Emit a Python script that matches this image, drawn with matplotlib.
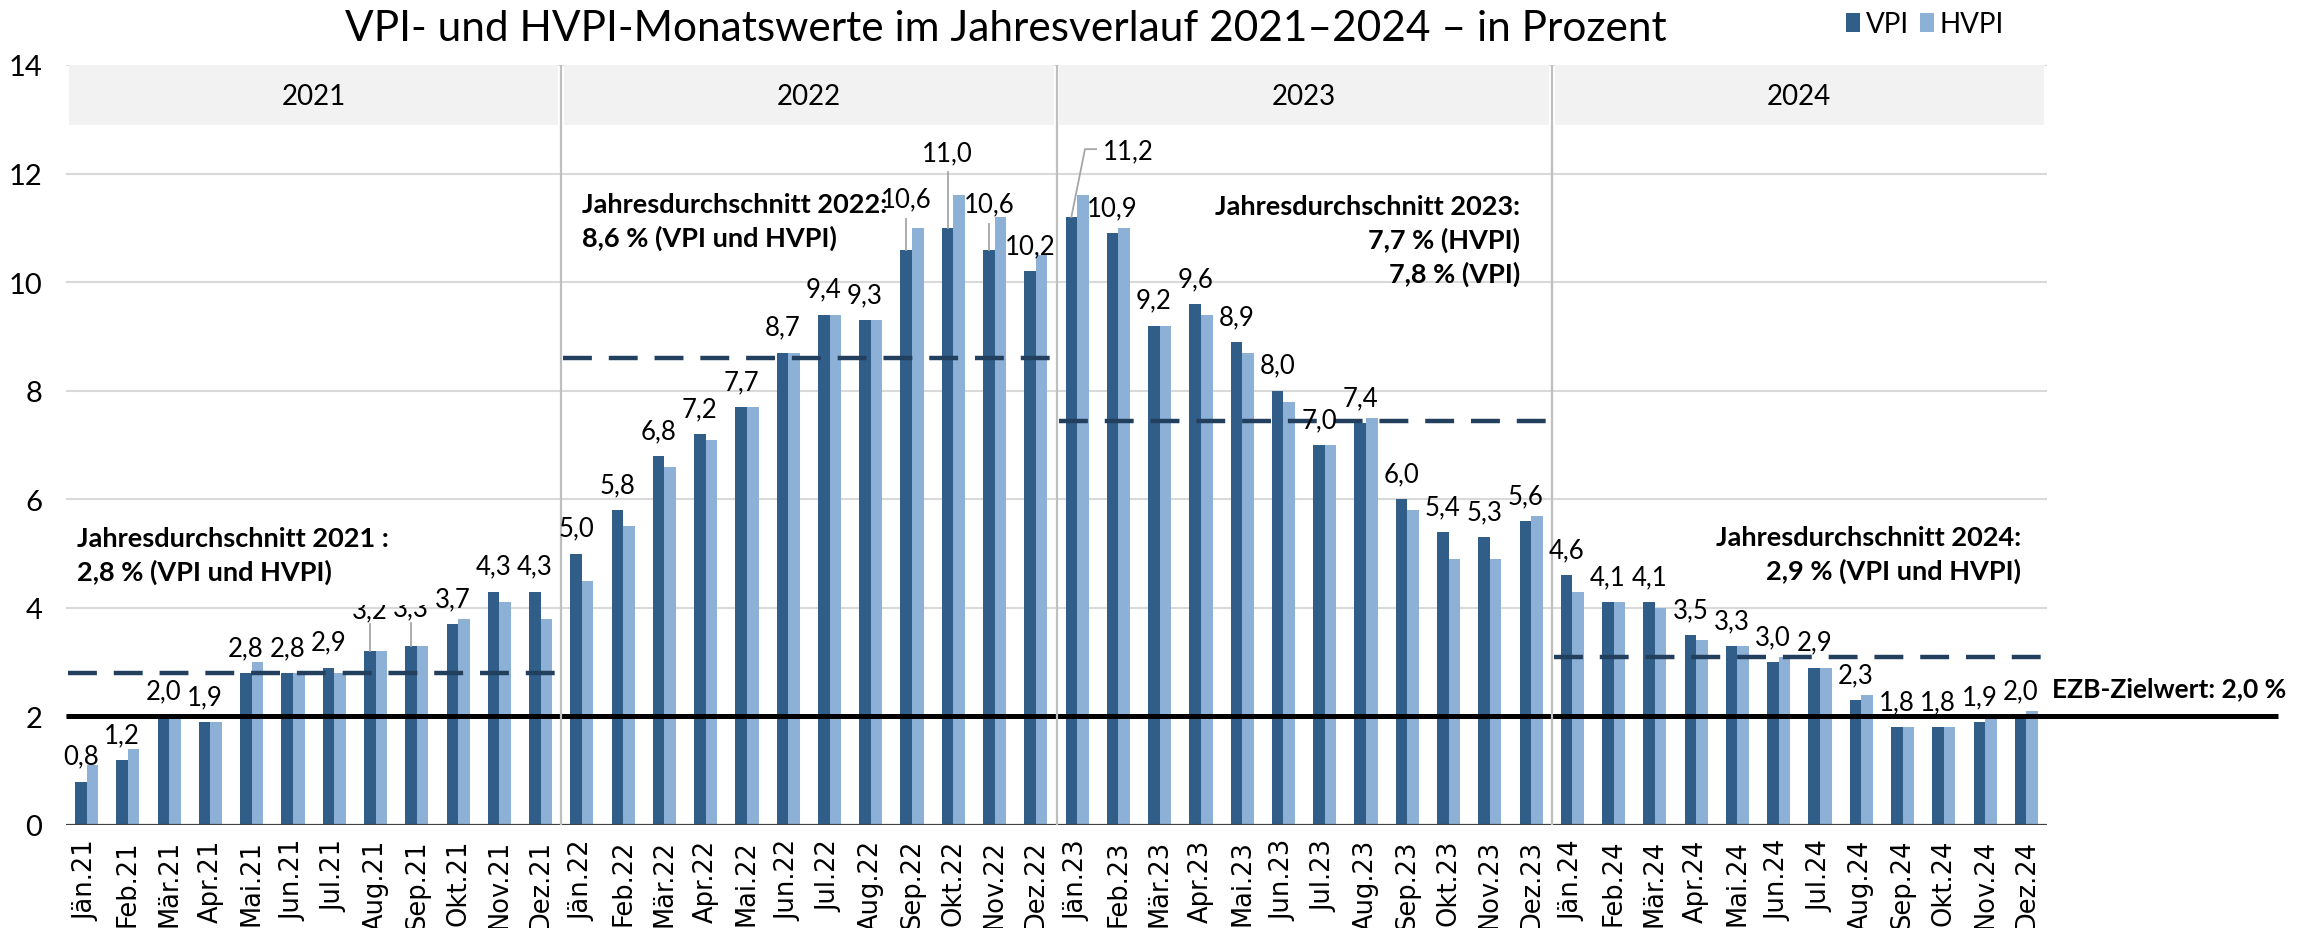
import matplotlib
matplotlib.use("Agg")
import matplotlib.pyplot as plt
from matplotlib.patches import Rectangle, Patch
import numpy as np

# ---------------- data ----------------
months = ["Jän", "Feb", "Mär", "Apr", "Mai", "Jun", "Jul", "Aug", "Sep", "Okt", "Nov", "Dez"]
years = ["2021", "2022", "2023", "2024"]

vpi_2021 = [0.8, 1.2, 2.0, 1.9, 2.8, 2.8, 2.9, 3.2, 3.3, 3.7, 4.3, 4.3]
vpi_2022 = [5.0, 5.8, 6.8, 7.2, 7.7, 8.7, 9.4, 9.3, 10.6, 11.0, 10.6, 10.2]
vpi_2023 = [11.2, 10.9, 9.2, 9.6, 8.9, 8.0, 7.0, 7.4, 6.0, 5.4, 5.3, 5.6]
vpi_2024 = [4.6, 4.1, 4.1, 3.5, 3.3, 3.0, 2.9, 2.3, 1.8, 1.8, 1.9, 2.0]

hvpi_2021 = [1.1, 1.4, 2.0, 1.9, 3.0, 2.8, 2.8, 3.2, 3.3, 3.8, 4.1, 3.8]
hvpi_2022 = [4.5, 5.5, 6.6, 7.1, 7.7, 8.7, 9.4, 9.3, 11.0, 11.6, 11.2, 10.5]
hvpi_2023 = [11.6, 11.0, 9.2, 9.4, 8.7, 7.8, 7.0, 7.5, 5.8, 4.9, 4.9, 5.7]
hvpi_2024 = [4.3, 4.1, 4.0, 3.4, 3.3, 3.1, 2.9, 2.4, 1.8, 1.8, 2.0, 2.1]

avg_lines = [2.8, 8.6, 7.45, 3.1]          # dashed annual-average lines as drawn
ezb_target = 2.0

avg_texts = [
    "Jahresdurchschnitt 2021 :\n2,8 % (VPI und HVPI)",
    "Jahresdurchschnitt 2022:\n8,6 % (VPI und HVPI)",
    "Jahresdurchschnitt 2023:\n7,7 % (HVPI)\n7,8 % (VPI)",
    "Jahresdurchschnitt 2024:\n2,9 % (VPI und HVPI)",
]
ezb_text = "EZB-Zielwert: 2,0 %"
title = "VPI- und HVPI-Monatswerte im Jahresverlauf 2021–2024 – in Prozent"
series_names = ["VPI", "HVPI"]

vpi = vpi_2021 + vpi_2022 + vpi_2023 + vpi_2024
hvpi = hvpi_2021 + hvpi_2022 + hvpi_2023 + hvpi_2024
tick_labels = [f"{m}.{y[2:]}" for y in years for m in months]

# ---------------- style ----------------
DARK = "#305E89"
LIGHT = "#8DB0D6"
NAVY = "#223F5E"
FONT = "Lato"
TFONT = "DejaVu Sans"

W, H = 2310, 929
fig = plt.figure(figsize=(W / 100, H / 100), dpi=100)
fig.patch.set_facecolor("white")
ax = fig.add_axes([66 / W, 1 - 826 / H, (2047 - 66) / W, (826 - 66) / H])
n = len(vpi)
ax.set_xlim(-0.5, n - 0.5)
ax.set_ylim(0, 14)
for s in ax.spines.values():
    s.set_visible(False)

x = np.arange(n)
bw = 0.28

# grid
for g in range(2, 15, 2):
    ax.axhline(g, color="#D9D9D9", lw=1.5, zorder=0)

# year bands
for k, y in enumerate(years):
    x0 = 12 * k - 0.5 + 0.07
    ax.add_patch(Rectangle((x0, 12.9), 12 - 0.14, 1.1, facecolor="#F2F2F2",
                           edgecolor="none", zorder=0.5))
    ax.text(12 * k + 5.5, 13.43, y, ha="center", va="center", fontsize=20,
            family=FONT, zorder=2)

# bars
ax.bar(x - bw / 2, vpi, bw, color=DARK, zorder=2, label=series_names[0])
ax.bar(x + bw / 2, hvpi, bw, color=LIGHT, zorder=2, label=series_names[1])

# axis line
ax.axhline(0, color="#404040", lw=1.6, zorder=3)

# EZB target line
ax.plot([-0.5, 53.1], [ezb_target, ezb_target], color="black", lw=3.6,
        zorder=3, clip_on=False, solid_capstyle="butt")

# separators
ax.vlines([11.5, 23.5, 35.5], 0, 14, color="#BFBFBF", lw=1.6, zorder=4)

# dashed average lines
for k, v in enumerate(avg_lines):
    ax.plot([12 * k - 0.45, 12 * k + 11.45], [v, v], color=NAVY, lw=3.2,
            dashes=(6.5, 3.8), zorder=4)

# value labels
LBL = 18.5
label_y = {7: 3.96, 8: 4.0, 20: 11.53, 21: 12.38, 22: 11.44}
leaders = {7: (3.7, 3.2), 8: (3.72, 3.3), 20: (11.17, 10.6), 21: (12.03, 11.0),
           22: (11.07, 10.6)}
for i, v in enumerate(vpi):
    xc = i - bw / 2
    txt = f"{v:.1f}".replace(".", ",")
    if i == 24:
        ax.text(xc + 1.37, 12.42, txt, ha="center", va="center", fontsize=LBL,
                family=FONT, zorder=5)
        ax.plot([xc + 0.6, xc + 0.33, xc], [12.45, 12.45, v], color="#A6A6A6",
                lw=1.3, zorder=5)
        continue
    yc = label_y.get(i, v + 0.47)
    ax.text(xc, yc, txt, ha="center", va="center", fontsize=LBL, family=FONT,
            zorder=5)
    if i in leaders:
        a, b = leaders[i]
        ax.plot([xc, xc], [a, b], color="#A6A6A6", lw=1.3, zorder=5)

# white box of the 2021 annotation (clips labels beneath)
ax.add_patch(Rectangle((-0.45, 4.06), 8.75, 1.6, facecolor="white",
                       edgecolor="none", zorder=6))

# annual-average annotations
ann_kw = dict(fontsize=19.5, family=FONT, fontweight="bold", zorder=7,
              linespacing=1.42)
ax.text(-0.23, 4.97, avg_texts[0], ha="left", va="center", **ann_kw)
ax.text(12.0, 11.13, avg_texts[1], ha="left", va="center", **ann_kw)
ax.text(34.73, 10.78, avg_texts[2], ha="right", va="center", multialignment="right", **ann_kw)
ax.text(46.87, 4.99, avg_texts[3], ha="right", va="center", multialignment="right", **ann_kw)
ax.text(47.62, 2.52, ezb_text, ha="left", va="center", fontsize=19,
        family=FONT, fontweight="bold", zorder=7, clip_on=False)

# ticks
ax.set_xticks(x)
ax.set_xticklabels(tick_labels, rotation=90, family=TFONT, fontsize=18.5)
ax.set_yticks(range(0, 15, 2))
ax.set_yticklabels([str(t) for t in range(0, 15, 2)], family=FONT, fontsize=21)
ax.tick_params(axis="x", length=0, pad=10)
ax.tick_params(axis="y", length=0, pad=17)

# title
fig.text(1006 / W, 1 - 29 / H, title, ha="center", va="center", fontsize=30.5,
         family=FONT)

# legend
handles = [Patch(facecolor=DARK), Patch(facecolor=LIGHT)]
fig.legend(handles, series_names, loc="center left",
           bbox_to_anchor=(1846 / W, 1 - 25 / H), ncol=2, frameon=False,
           prop={"family": FONT, "size": 20}, handlelength=0.5,
           handleheight=0.7, handletextpad=0.2, columnspacing=0.4,
           borderpad=0, borderaxespad=0)

fig.savefig("out.png", dpi=100, facecolor="white")
